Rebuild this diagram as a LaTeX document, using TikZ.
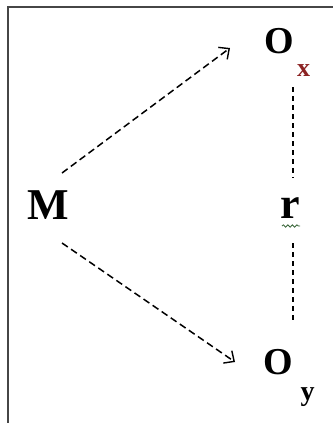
\documentclass[tikz,border=0pt]{standalone}
\usepackage{fontspec}
\setmainfont{Liberation Serif}
\usetikzlibrary{arrows.meta,decorations.pathmorphing}
\definecolor{subred}{RGB}{140,35,35}
\definecolor{framegray}{RGB}{70,70,70}
\tikzset{
  lbl/.style={inner sep=0pt, font=\bfseries},
  arr/.style={line width=1.5pt, dash pattern=on 7pt off 4pt, -{Straight Barb[length=8pt,width=15pt,line width=1.4pt]}},
  vline/.style={line width=1.4pt, dash pattern=on 5pt off 4pt},
}
\begin{document}
\begin{tikzpicture}[x=1pt,y=1pt]
\useasboundingbox (0,0) rectangle (333,-423);
\draw[framegray, line width=1.5pt] (8,-423) -- (8,-7) -- (333,-7);
% nodes
\node[lbl, font=\bfseries\fontsize{44}{44}\selectfont] (M) at (48.5,-205.5) {M};
\node[lbl, font=\bfseries\fontsize{38}{38}\selectfont] (Ox) at (279.5,-41.5) {O};
\node[lbl, font=\bfseries\fontsize{26}{26}\selectfont, text=subred] (Oxs) at (303.5,-71) {x};
\node[lbl, font=\bfseries\fontsize{44}{44}\selectfont] (r) at (290,-208) {r};
\node[lbl, font=\bfseries\fontsize{38}{38}\selectfont] (Oy) at (278.5,-362.5) {O};
\node[lbl, font=\bfseries\fontsize{28}{28}\selectfont] (Oys) at (307.5,-397) {y};
% arrow ends
\coordinate (m1) at (62,-173);
\coordinate (m2) at (62,-243);
\coordinate (t1) at (230,-48);
\coordinate (t2) at (235,-362);
\coordinate (v1) at (293,-87);
\coordinate (v2) at (293,-178);
\coordinate (v3) at (293,-243);
\coordinate (v4) at (293,-323);
\coordinate (w1) at (282,-226);
\coordinate (w2) at (300,-226);
\draw[arr] (m1) -- (t1);
\draw[arr] (m2) -- (t2);
\draw[vline] (v1) -- (v2);
\draw[vline] (v3) -- (v4);
\draw[gray!70!green!60!black, line width=0.8pt, decorate, decoration={snake, amplitude=1.2pt, segment length=4.5pt}] (w1) -- (w2);
\end{tikzpicture}
\end{document}
